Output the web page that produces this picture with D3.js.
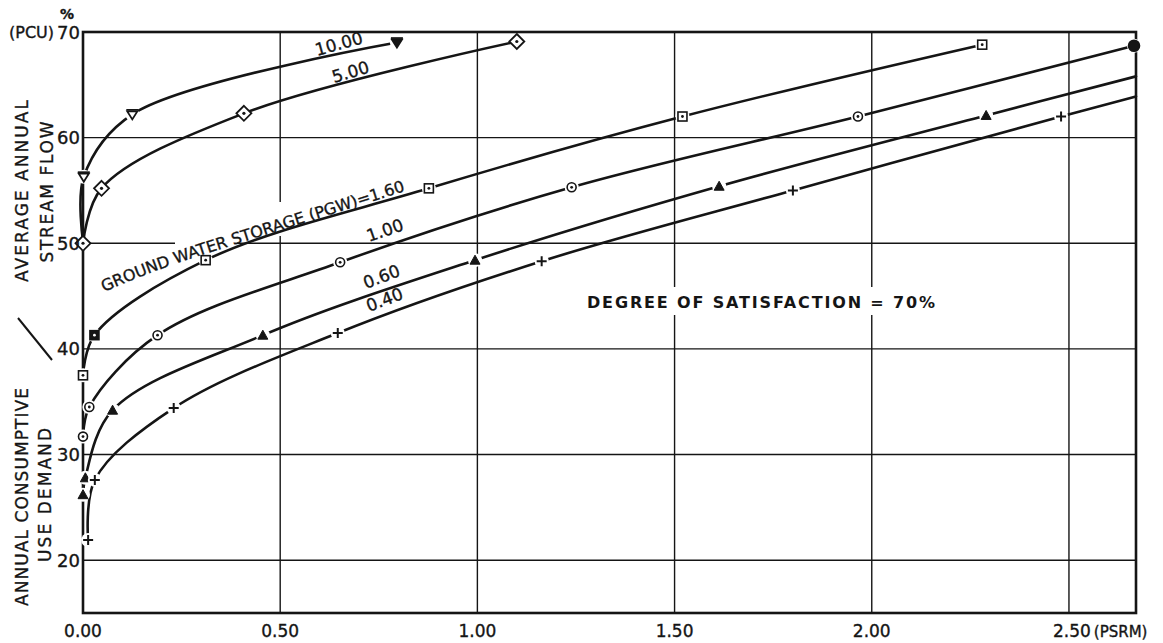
<!DOCTYPE html>
<html><head><meta charset="utf-8">
<script src="https://cdn.jsdelivr.net/npm/d3@7/dist/d3.min.js"></script>
<style>body{margin:0;background:#fff}svg{display:block}</style>
</head><body><svg id="chart" width="1163" height="643"></svg>
<script>
// ---- data ----
const xTicks = [0, 0.5, 1.0, 1.5, 2.0, 2.5];
const xTickLabels = ["0.00", "0.50", "1.00", "1.50", "2.00", "2.50"];
const yTicks = [20, 30, 40, 50, 60, 70];
const yTickLabels = ["20", "30", "40", "50", "60", "70"];
const pgwLabels = ["10.00", "5.00", "1.60", "1.00", "0.60", "0.40"];

const psrm_10 = [0.000, 0.002, 0.125, 0.796];
const pcu_10 = [50.2, 56.3, 62.2, 69.0];
const mark_10 = [0, 1, 1, 2];

const psrm_5 = [0.000, 0.047, 0.408, 1.100];
const pcu_5 = [50.0, 55.2, 62.3, 69.1];
const mark_5 = [1, 1, 1, 1];

const psrm_160 = [0.000, 0.029, 0.311, 0.877, 1.520, 2.280];
const pcu_160 = [37.5, 41.3, 48.4, 55.2, 62.0, 68.8];
const mark_160 = [1, 2, 1, 1, 1, 1];

const psrm_100 = [0.000, 0.016, 0.189, 0.652, 1.239, 1.965, 2.665];
const pcu_100 = [31.7, 34.5, 41.3, 48.2, 55.3, 62.0, 68.7];
const mark_100 = [1, 1, 1, 1, 1, 1, 2];

const psrm_060 = [0.000, 0.006, 0.075, 0.456, 0.994, 1.613, 2.290, 2.670];
const pcu_060 = [26.2, 27.8, 34.2, 41.3, 48.4, 55.4, 62.1, 65.8];
const mark_060 = [2, 2, 2, 2, 2, 2, 2, 0];

const psrm_040 = [0.013, 0.030, 0.230, 0.646, 1.163, 1.800, 2.480, 2.670];
const pcu_040 = [21.9, 27.6, 34.4, 41.5, 48.3, 55.0, 62.0, 63.9];
const mark_040 = [1, 1, 1, 1, 1, 1, 1, 0];

const markerKinds = ["tridown", "diamond", "square", "circle", "triangle", "plus"];

// ---- layout ----
const svg = d3.select("#chart");
const FONT = "'DejaVu Sans', 'Liberation Sans', sans-serif";
const INK = "#151515";
const x = d3.scaleLinear().domain([0, 2.67]).range([83, 1136]);
const y = d3.scaleLinear().domain([15, 70]).range([613, 32]);

const series = [
  {xs: psrm_10, ys: pcu_10, ms: mark_10},
  {xs: psrm_5, ys: pcu_5, ms: mark_5},
  {xs: psrm_160, ys: pcu_160, ms: mark_160},
  {xs: psrm_100, ys: pcu_100, ms: mark_100},
  {xs: psrm_060, ys: pcu_060, ms: mark_060},
  {xs: psrm_040, ys: pcu_040, ms: mark_040}
].map((s, i) => ({
  label: pgwLabels[i], kind: markerKinds[i],
  pts: s.xs.map((v, j) => ({x: v, y: s.ys[j], m: s.ms[j]}))
}));

// gridlines
const grid = svg.append("g").attr("stroke", INK).attr("stroke-width", 1.4);
grid.selectAll("line.v").data(xTicks.filter(d => d > 0)).join("line")
  .attr("x1", d => x(d)).attr("x2", d => x(d)).attr("y1", y(70)).attr("y2", y(15));
grid.selectAll("line.h").data(yTicks.filter(d => d < 70)).join("line")
  .attr("x1", x(0)).attr("x2", x(2.67)).attr("y1", d => y(d)).attr("y2", d => y(d));

// gaps in grid where lettering crosses
svg.append("rect").attr("x", 175).attr("y", y(50) - 3).attr("width", 62).attr("height", 6).attr("fill", "#fff");
svg.append("rect").attr("x", x(0.5) - 3).attr("y", 202).attr("width", 6).attr("height", 34).attr("fill", "#fff");
svg.append("rect").attr("x", 582).attr("y", 287).attr("width", 358).attr("height", 28).attr("fill", "#fff");

// frame
svg.append("rect").attr("x", x(0)).attr("y", y(70)).attr("width", x(2.67) - x(0)).attr("height", y(15) - y(70))
  .attr("fill", "none").attr("stroke", INK).attr("stroke-width", 2.6);

// curves
const line = d3.line().x(d => x(d.x)).y(d => y(d.y)).curve(d3.curveCatmullRom.alpha(0.5));
svg.append("g").selectAll("path").data(series).join("path")
  .attr("d", d => line(d.pts)).attr("fill", "none").attr("stroke", INK)
  .attr("stroke-width", 2.6).attr("stroke-linecap", "round");

// markers
const mg = svg.append("g");
series.forEach(s => {
  s.pts.filter(p => p.m > 0).forEach(p => {
    const g = mg.append("g").attr("transform", `translate(${x(p.x)},${y(p.y)})`);
    const filled = p.m === 2;
    const haloR = s.kind === "diamond" ? 0 : 7;
    if (haloR) g.append("circle").attr("r", haloR).attr("fill", "#fff");
    if (s.kind === "tridown") {
      g.append("path").attr("d", "M-5,-3 L5,-3 L0,5 Z").attr("fill", filled ? INK : "#fff").attr("stroke", INK).attr("stroke-width", 1.8);
      g.append("line").attr("x1", -6).attr("x2", 6).attr("y1", -4.5).attr("y2", -4.5).attr("stroke", INK).attr("stroke-width", 1.8);
    } else if (s.kind === "diamond") {
      g.append("path").attr("d", "M0,-7.5 L7.5,0 L0,7.5 L-7.5,0 Z").attr("fill", "#fff").attr("stroke", INK).attr("stroke-width", 1.8);
      g.append("circle").attr("r", 1.6).attr("fill", INK);
    } else if (s.kind === "square") {
      g.append("rect").attr("x", -4.5).attr("y", -4.5).attr("width", 9).attr("height", 9)
        .attr("fill", filled ? INK : "#fff").attr("stroke", INK).attr("stroke-width", 1.6);
      g.append("circle").attr("r", 1.4).attr("fill", filled ? "#fff" : INK);
    } else if (s.kind === "circle") {
      g.append("circle").attr("r", filled ? 5.5 : 4.5).attr("fill", filled ? INK : "#fff").attr("stroke", INK).attr("stroke-width", 1.6);
      if (!filled) g.append("circle").attr("r", 1.4).attr("fill", INK);
    } else if (s.kind === "triangle") {
      g.append("path").attr("d", "M0,-5 L5,4 L-5,4 Z").attr("fill", INK).attr("stroke", INK).attr("stroke-width", 1);
    } else if (s.kind === "plus") {
      g.append("path").attr("d", "M-5,0 L5,0 M0,-5 L0,5").attr("stroke", INK).attr("stroke-width", 2);
    }
  });
});

// text weight helper (lettering-guide look: slightly heavier strokes)
function heavy(sel, w) { return sel.attr("stroke", INK).attr("stroke-width", w).attr("paint-order", "stroke"); }

// axis tick labels
const tl = heavy(svg.append("g").attr("font-family", FONT).attr("fill", INK), 0.35);
tl.selectAll("text.y").data(yTicks).join("text")
  .attr("x", 80).attr("y", d => y(d)).attr("text-anchor", "end").attr("dominant-baseline", "central")
  .attr("font-size", 18).text((d, i) => yTickLabels[i]);
tl.append("text").attr("x", 9).attr("y", y(70) + 1).attr("dominant-baseline", "central")
  .attr("font-size", 15).attr("textLength", 45).attr("lengthAdjust", "spacingAndGlyphs").text("(PCU)");
tl.append("text").attr("x", 67).attr("y", 19).attr("text-anchor", "middle")
  .attr("font-size", 14).attr("font-weight", "bold").text("%");
tl.selectAll("text.x").data(xTicks).join("text")
  .attr("x", (d, i) => i === xTicks.length - 1 ? x(d) - 16 : x(d))
  .attr("y", 637).attr("text-anchor", (d, i) => i === xTicks.length - 1 ? "start" : "middle")
  .attr("font-size", 17)
  .each(function(d, i) {
    const t = d3.select(this);
    t.append("tspan").text(xTickLabels[i]);
    if (i === xTicks.length - 1) t.append("tspan").attr("dx", 3).attr("font-size", 15).text("(PSRM)");
  });

// y-axis title
const yt = heavy(svg.append("g").attr("font-family", FONT).attr("fill", INK).attr("font-size", 17), 0.35);
function vText(cx, cy, len, str) {
  yt.append("text").attr("transform", `translate(${cx},${cy}) rotate(-90)`)
    .attr("text-anchor", "middle").attr("dominant-baseline", "central")
    .attr("textLength", len).attr("lengthAdjust", "spacing").text(str);
}
vText(22, 191, 182, "AVERAGE  ANNUAL");
vText(47, 192, 141, "STREAM  FLOW");
vText(22, 497, 218, "ANNUAL  CONSUMPTIVE");
vText(45, 495, 134, "USE  DEMAND");
svg.append("line").attr("x1", 18).attr("y1", 318).attr("x2", 52).attr("y2", 360)
  .attr("stroke", INK).attr("stroke-width", 2);

// curve labels
const cl = heavy(svg.append("g").attr("font-family", FONT).attr("fill", INK).attr("font-size", 17), 0.35);
const labelPos = {"10.00": [317, 56, -15.5], "5.00": [334, 83, -16.5], "1.00": [369, 242, -19], "0.60": [366, 289, -21], "0.40": [369, 312, -21]};
Object.entries(labelPos).forEach(([k, v]) => {
  cl.append("text").attr("transform", `translate(${v[0]},${v[1]}) rotate(${v[2]})`).text(k);
});
svg.append("defs").append("path").attr("id", "gwpath")
  .attr("d", "M104,292 C140,276 178,262 240,243 L415,188");
cl.append("text").attr("font-size", 16).append("textPath").attr("href", "#gwpath")
  .attr("textLength", 318).attr("lengthAdjust", "spacing")
  .text("GROUND  WATER STORAGE (PGW)=" + pgwLabels[2]);

// annotation
svg.append("text").attr("x", 587).attr("y", 308).attr("font-family", FONT).attr("font-weight", "bold")
  .attr("font-size", 16).attr("fill", INK).attr("textLength", 348).attr("lengthAdjust", "spacing")
  .text("DEGREE OF SATISFACTION = 70%");
</script></body></html>
